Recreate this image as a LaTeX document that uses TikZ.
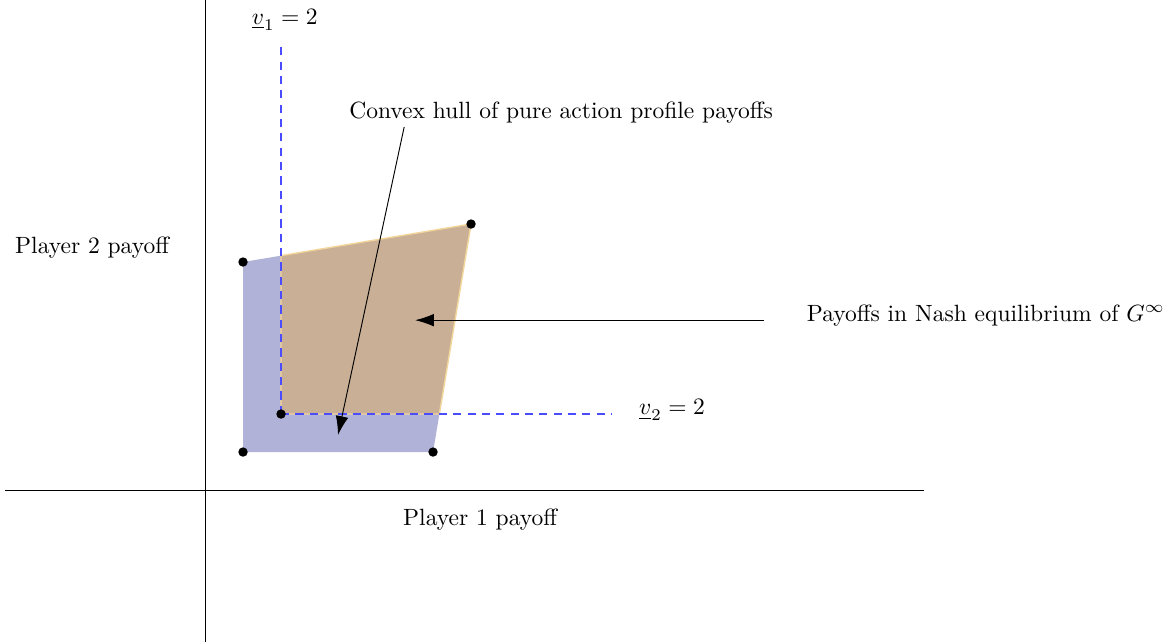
\documentclass[tikz,border=0pt]{standalone}
\usepackage{tikz}
\usetikzlibrary{positioning,arrows.meta,calc}
\definecolor{hullfill}{HTML}{B0B2D8}
\definecolor{nashfill}{HTML}{C8AF96}
\definecolor{nashedge}{HTML}{F2D59A}
\tikzset{
  payoffdot/.style={circle, fill=black, inner sep=0pt, minimum size=4pt},
  minmaxline/.style={draw=blue!70, line width=0.5pt, dash pattern=on 3.5pt off 2.6pt},
  bigtip/.style={-{Latex[length=8pt,width=5.4pt]}}
}

\begin{document}
\begin{tikzpicture}[x=0.568cm,y=0.568cm]
\useasboundingbox (-5.395,-4) rectangle (25.34,12.895);
% axes
\draw (-5.26,0) -- (18.92,0);
\draw (0,-4) -- (0,12.895);
\node (p1lbl) at (7.24,-0.79) {Player 1 payoff};
\node (p2lbl) at (-2.97,6.37) {Player 2 payoff};
% pure payoffs
\coordinate (a) at (1,1);
\coordinate (b) at (6,1);
\coordinate (c) at (7,7);
\coordinate (d) at (1,6);
\coordinate (m) at (2,2);
\fill[hullfill] (a) -- (b) -- (c) -- (d) -- cycle;
\fill[nashfill, draw=nashedge, line width=0.6pt] (m) -- ($(c)!5/6!(b)$) -- (c) -- ($(d)!1/6!(c)$) -- cycle;
% minmax lines
\coordinate (vtop) at (2,11.7);
\coordinate (vright) at (10.7,2);
\draw[minmaxline] (m) -- (vtop);
\draw[minmaxline] (m) -- (vright);
\node (v1lbl) at (2.1,12.37) {$\underline{v}_1 = 2$};
\node (v2lbl) at (12.29,2.1) {$\underline{v}_2 = 2$};
\foreach \p in {a,b,c,d,m}
  \node[payoffdot] (dot\p) at (\p) {};
% labels with arrows
\node (hulltxt) at (9.37,9.92) {Convex hull of pure action profile payoffs};
\coordinate (hullfrom) at (5.24,9.55);
\coordinate (hullto) at (3.5,1.45);
\draw[bigtip] (hullfrom) -- (hullto);
\node[anchor=west] (nashtxt) at (15.62,4.6) {Payoffs in Nash equilibrium of $G^\infty$};
\coordinate (nashfrom) at (14.7,4.47);
\coordinate (nashto) at (5.53,4.47);
\draw[bigtip] (nashfrom) -- (nashto);
\end{tikzpicture}
\end{document}
